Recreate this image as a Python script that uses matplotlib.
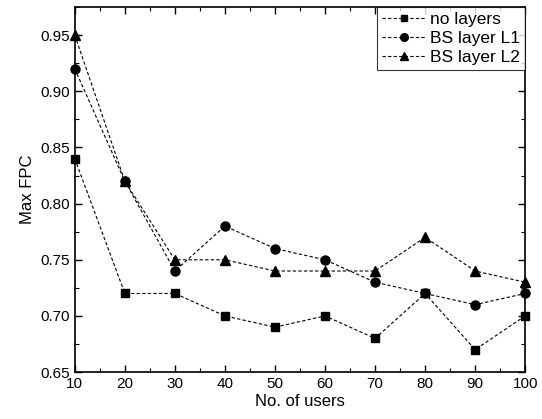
import matplotlib.pyplot as plt
from matplotlib.ticker import MultipleLocator

plt.rcParams['font.family'] = ['Liberation Sans', 'DejaVu Sans']

users = [10, 20, 30, 40, 50, 60, 70, 80, 90, 100]
no_layers = [0.84, 0.72, 0.72, 0.70, 0.69, 0.70, 0.68, 0.72, 0.67, 0.70]
bs_l1 = [0.92, 0.82, 0.74, 0.78, 0.76, 0.75, 0.73, 0.72, 0.71, 0.72]
bs_l2 = [0.95, 0.82, 0.75, 0.75, 0.74, 0.74, 0.74, 0.77, 0.74, 0.73]

fig = plt.figure(figsize=(5.42, 4.19), dpi=100)
ax = fig.add_axes([0.138, 0.112, 0.831, 0.871])

style = dict(color='black', linestyle='--', linewidth=0.8, clip_on=False, dashes=(3, 2))
ax.plot(users, no_layers, marker='s', markersize=5.5, label='no layers', **style)
ax.plot(users, bs_l1, marker='o', markersize=6.5, label='BS layer L1', **style)
ax.plot(users, bs_l2, marker='^', markersize=7, label='BS layer L2', **style)

ax.set_xlim(10, 100)
ax.set_ylim(0.65, 0.975)
ax.xaxis.set_major_locator(MultipleLocator(10))
ax.xaxis.set_minor_locator(MultipleLocator(5))
ax.yaxis.set_major_locator(MultipleLocator(0.05))
ax.yaxis.set_minor_locator(MultipleLocator(0.025))
ax.yaxis.set_major_formatter(lambda v, p: f'{v:.2f}')
ax.tick_params(which='both', direction='in', top=True, right=True, labelsize=11)
ax.tick_params(which='major', length=5, width=1)
ax.tick_params(which='minor', length=3, width=0.8)
for s in ax.spines.values():
    s.set_linewidth(1.2)

ax.set_xlabel('No. of users', fontsize=12, labelpad=2)
ax.set_ylabel('Max FPC', fontsize=12)

leg = ax.legend(loc='upper right', fontsize=12.5, frameon=True, fancybox=False,
                borderaxespad=0, handlelength=2.5, handletextpad=0.25,
                borderpad=0.3, labelspacing=0.2, markerscale=0.85)
leg.get_frame().set_edgecolor('black')
leg.get_frame().set_linewidth(0.8)

fig.savefig('out.png', dpi=100)
